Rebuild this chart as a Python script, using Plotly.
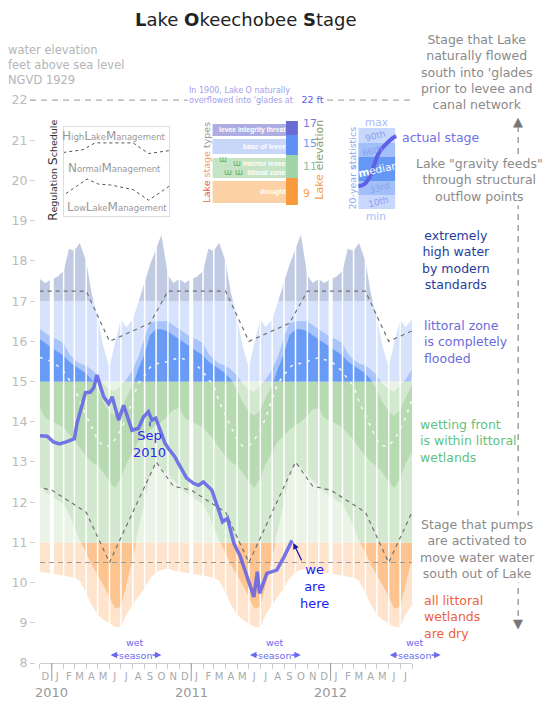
import plotly.graph_objects as go
import pandas as pd

# 20-year day-of-year stage statistics (ft), read at the 1st and 15th of each month, Jan 1 first
CLIM_MONTH = [1, 1, 2, 2, 3, 3, 4, 4, 5, 5, 6, 6, 7, 7, 8, 8, 9, 9, 10, 10, 11, 11, 12, 12]
CLIM_DAY = [1, 15] * 12
STAT_MAX = [17.55, 17.6, 17.75, 18.3, 18.25, 18.45, 18.0, 17.2, 16.6, 15.9, 15.35, 15.95,
            16.55, 16.35, 16.55, 16.95, 17.5, 17.9, 18.3, 18.65, 17.65, 17.45, 17.55, 17.45]
STAT_P90 = [16.1, 16.05, 15.95, 15.7, 15.55, 15.45, 15.4, 15.3, 15.15, 14.95, 14.8, 14.75,
            14.9, 15.05, 15.3, 15.6, 16.1, 16.45, 16.5, 16.5, 16.5, 16.4, 16.3, 16.2]
STAT_P66 = [15.85, 15.75, 15.65, 15.5, 15.4, 15.3, 15.2, 15.05, 14.8, 14.5, 14.25, 14.15,
            14.3, 14.6, 14.9, 15.3, 15.7, 16.15, 16.3, 16.3, 16.25, 16.15, 16.05, 15.95]
STAT_MEDIAN = [15.5, 15.4, 15.25, 15.05, 14.9, 14.5, 14.15, 13.85, 13.55, 13.4, 13.4, 13.55,
               13.8, 14.1, 14.55, 14.95, 15.15, 15.35, 15.45, 15.45, 15.5, 15.55, 15.6, 15.55]
STAT_P33 = [14.0, 13.95, 13.85, 13.7, 13.55, 13.35, 13.15, 13.0, 12.9, 12.75, 12.5, 12.35,
            12.6, 12.95, 13.25, 13.5, 13.65, 13.8, 13.9, 14.0, 14.15, 14.3, 14.35, 14.1]
STAT_P10 = [12.15, 12.05, 11.95, 11.7, 11.4, 11.05, 10.75, 10.45, 10.2, 9.95, 9.65, 9.35,
            9.4, 9.9, 10.6, 11.2, 12.0, 12.7, 12.95, 12.85, 12.7, 12.55, 12.4, 12.25]
STAT_MIN = [10.22, 10.2, 10.18, 10.15, 10.12, 10.05, 9.75, 9.45, 9.2, 9.08, 8.98, 8.9,
            8.88, 9.2, 9.45, 9.65, 9.85, 10.1, 10.25, 10.32, 10.35, 10.3, 10.27, 10.25]

# regulation schedule breakpoints (month, day, ft)
REG_UPPER_MONTH = [1, 4, 6, 9, 11, 12]
REG_UPPER_DAY = [1, 1, 1, 15, 1, 31]
REG_UPPER_FT = [17.25, 17.25, 16.0, 16.45, 17.25, 17.25]
REG_LOWER_MONTH = [1, 4, 6, 10, 11, 12]
REG_LOWER_DAY = [1, 1, 1, 1, 15, 31]
REG_LOWER_FT = [12.3, 11.75, 10.5, 13.0, 12.4, 12.3]
PUMP_STAGE = 10.5
HISTORIC_STAGE = 22

# actual lake stage
STAGE_DATE = ['2009-12-01', '2009-12-20', '2010-01-05', '2010-01-21', '2010-02-08', '2010-03-01',
              '2010-03-08', '2010-03-20', '2010-03-30', '2010-04-12', '2010-04-21', '2010-04-29',
              '2010-05-08', '2010-05-17', '2010-05-30', '2010-06-08', '2010-06-25', '2010-07-08',
              '2010-07-30', '2010-08-16', '2010-08-29', '2010-09-11', '2010-09-20', '2010-09-30',
              '2010-10-15', '2010-10-24', '2010-11-02', '2010-11-19', '2010-11-28', '2010-12-20',
              '2011-01-07', '2011-01-20', '2011-02-02', '2011-02-24', '2011-03-11', '2011-03-24',
              '2011-04-06', '2011-04-23', '2011-05-10', '2011-05-28', '2011-06-14', '2011-06-23',
              '2011-06-29', '2011-07-18', '2011-08-13', '2011-09-01', '2011-09-22']
STAGE_FT = [13.65, 13.64, 13.5, 13.45, 13.5, 13.58, 13.96, 14.4, 14.72, 14.74, 14.85, 15.16,
            14.87, 14.62, 14.45, 14.62, 14.04, 14.41, 13.79, 13.84, 14.12, 14.25, 14.04, 14.09,
            13.71, 13.47, 13.34, 13.13, 12.97, 12.6, 12.47, 12.42, 12.5, 12.3, 11.88, 11.51,
            11.6, 10.97, 10.64, 10.14, 9.64, 10.27, 9.73, 10.23, 10.31, 10.64, 11.05]

# stage zones: bottom, top, colours for min-max, 10-90 and 33-66 bands
ZONE_LOW = [8, 11, 15, 17]
ZONE_HIGH = [11, 15, 17, 22.5]
ZONE_OUTER = ['#fee4cc', '#e9f4e7', '#d7e3fc', '#c0cae2']
ZONE_MIDDLE = ['#fec48f', '#d3e9cf', '#a8c4fa', '#c0cae2']
ZONE_INNER = ['#fdb878', '#b7dab3', '#689bf6', '#c0cae2']

MONTH_LETTERS = list('JFMAMJJASOND')
YEARS = [2010, 2011, 2012]

START, END = pd.Timestamp('2009-12-01'), pd.Timestamp('2012-08-01')
Y_MIN, Y_MAX = 8, 22.5
W, H = 551, 703
L, R, T, B = 32, 139, 80, 40
PW, PH = W - L - R, H - T - B
X_DOMAIN0 = 5 / PW
FONT = 'DejaVu Sans'


def px(x):
    return (x - L) / PW


def py(y):
    return (H - B - y) / PH


def yd(v):
    return (v - Y_MIN) / (Y_MAX - Y_MIN)


def xp(t):
    # date -> paper x, following the main x axis
    return X_DOMAIN0 + (t - START) / (END - START) * (1 - X_DOMAIN0)


def span(months, days, values, lo=START, hi=END):
    xs, ys = [], []
    for yr in range(2009, 2014):
        for m, d, v in zip(months, days, values):
            t = pd.Timestamp(yr, m, d)
            if lo <= t <= hi:
                xs.append(t)
                ys.append(v)
    return xs, ys


fig = go.Figure()

# percentile bands, one subplot per zone so each is clipped to its zone
bands = [(STAT_MIN, STAT_MAX, ZONE_OUTER), (STAT_P10, STAT_P90, ZONE_MIDDLE), (STAT_P33, STAT_P66, ZONE_INNER)]
for k in range(len(ZONE_LOW)):
    yname = 'y' if k == 0 else 'y%d' % (k + 1)
    for lower, upper, cols in bands:
        bx, blo = span(CLIM_MONTH, CLIM_DAY, lower)
        _, bhi = span(CLIM_MONTH, CLIM_DAY, upper)
        fig.add_trace(go.Scatter(x=bx + bx[::-1], y=bhi + blo[::-1], fill='toself', fillcolor=cols[k],
                                 mode='lines', line=dict(width=0), yaxis=yname, hoverinfo='skip',
                                 showlegend=False))

# white month separators
months = pd.date_range(START, END, freq='MS')[1:-1]
for wide in (False, True):
    sx, sy = [], []
    for t in months:
        if (t.month == 1) == wide:
            sx += [t, t, None]
            sy += [Y_MIN, 19, None]
    fig.add_trace(go.Scatter(x=sx, y=sy, mode='lines', line=dict(color='white', width=4 if wide else 1.5),
                             yaxis='y5', hoverinfo='skip', showlegend=False))

mx, my = span(CLIM_MONTH, CLIM_DAY, STAT_MEDIAN)
fig.add_trace(go.Scatter(x=mx, y=my, mode='lines', yaxis='y5', showlegend=False,
                         line=dict(color='rgba(255,255,255,0.9)', width=1.5, dash='3px,6px')))

wide_lo, wide_hi = START - pd.DateOffset(months=4), END + pd.DateOffset(months=4)
for rm, rd, rv in [(REG_UPPER_MONTH, REG_UPPER_DAY, REG_UPPER_FT), (REG_LOWER_MONTH, REG_LOWER_DAY, REG_LOWER_FT)]:
    rx, ry = span(rm, rd, rv, wide_lo, wide_hi)
    fig.add_trace(go.Scatter(x=rx, y=ry, mode='lines', yaxis='y5', showlegend=False,
                             line=dict(color='#707070', width=1.2, dash='4px,4px')))
    # miniature in the regulation schedule inset
    fig.add_trace(go.Scatter(x=rx, y=ry, mode='lines', xaxis='x2', yaxis='y6', showlegend=False,
                             line=dict(color='#555', width=1, dash='3px,3px')))

fig.add_trace(go.Scatter(x=[START, END], y=[PUMP_STAGE, PUMP_STAGE], mode='lines', yaxis='y5',
                         showlegend=False, line=dict(color='#9a9a9a', width=1.2, dash='5px,4px')))

fig.add_trace(go.Scatter(x=pd.to_datetime(STAGE_DATE), y=STAGE_FT, mode='lines', yaxis='y5',
                         showlegend=False, line=dict(color='rgba(95,95,232,0.85)', width=3.5)))

# ---------- annotations ----------
ann = []


def note(x, y, text, size=12.5, color='#888', xanchor='center', yanchor='middle', angle=0, bg=None,
         align='center', family=FONT):
    d = dict(x=px(x), y=py(y), xref='paper', yref='paper', text=text, showarrow=False,
             font=dict(size=size, color=color, family=family), xanchor=xanchor, yanchor=yanchor,
             textangle=angle, align=align)
    if bg:
        d['bgcolor'] = bg
    ann.append(d)


note(245, 19, '<b>L</b>ake <b>O</b>keechobee <b>S</b>tage', size=18, color='#222')
note(3, 65, 'water elevation<br>feet above sea level<br>NGVD 1929', size=11.5, color='#b5b5b5',
     xanchor='left', align='left')
note(477, 72, "Stage that Lake<br>naturally flowed<br>south into 'glades<br>prior to levee and<br>canal network",
     color='#8a8a8a')
note(480, 180, 'Lake "gravity feeds"<br>through structural<br>outflow points', color='#8a8a8a', bg='white')
note(456, 260, 'extremely<br>high water<br>by modern<br>standards', color='#1f3d9e')
note(422, 342, 'littoral zone<br>is completely<br>flooded', color='#6b6bd8', xanchor='left', align='left')
note(418, 441, 'wetting front<br>is within littoral<br>wetlands', color='#62c27f', xanchor='left',
     align='left')
note(478, 549, 'Stage that pumps<br>are activated to<br>move water water<br>south out of Lake',
     color='#8a8a8a', bg='white')
note(422, 617, 'all littoral<br>wetlands<br>are dry', color='#f06040', xanchor='left', align='left')
note(519, 121, '▲', size=13, color='#777')
note(519, 623, '▼', size=13, color='#777')
note(255, 95, "In 1900, Lake O naturally<br>overflowed into 'glades at "
     "<span style='color:#5a5ae0;font-size:9.5px'>  22 ft</span>", size=8, color='#a0a0ec', bg='white',
     align='left')

# data-linked callouts
ann.append(dict(x='2010-09-15', y=14.05, xref='x', yref='y5', text='Sep<br>2010', showarrow=True,
                arrowhead=0, arrowwidth=1.2, arrowcolor='#2a2af0', ax=0, ay=24, standoff=2,
                font=dict(size=13, color='#2a2af0', family=FONT)))
ann.append(dict(x=STAGE_DATE[-1], y=STAGE_FT[-1], xref='x', yref='y5', text='we<br>are<br>here',
                showarrow=True, arrowhead=2, arrowsize=1, arrowwidth=1.2, arrowcolor='#1a1a9a', ax=22,
                ay=46, standoff=3, font=dict(size=13, color='#2020f0', family=FONT)))

# wet season markers and year labels
for yr in YEARS:
    s, e = pd.Timestamp(yr, 6, 1), pd.Timestamp(yr, 10, 15)
    mid = s + (e - s) / 2
    ann.append(dict(x=xp(e), y=py(655), xref='paper', yref='paper', ax=(xp(s) - xp(e)) * PW, ay=0,
                    axref='pixel', ayref='pixel', text='', showarrow=True, arrowhead=2, startarrowhead=2,
                    arrowside='end+start', arrowsize=1, arrowwidth=1.3, arrowcolor='#6a6af0'))
    ann.append(dict(x=xp(mid), y=py(655), xref='paper', yref='paper', text='season', showarrow=False,
                    bgcolor='white', xanchor='center', yanchor='middle', borderpad=0,
                    font=dict(size=9.5, color='#6a6af0', family=FONT)))
    ann.append(dict(x=xp(mid), y=py(642), xref='paper', yref='paper', text='wet', showarrow=False,
                    xanchor='center', yanchor='middle', font=dict(size=9.5, color='#6a6af0', family=FONT)))
    ann.append(dict(x=xp(pd.Timestamp(yr, 1, 1)), y=py(692), xref='paper', yref='paper', text=str(yr),
                    showarrow=False, xanchor='center', yanchor='middle',
                    font=dict(size=13, color='#999', family=FONT)))

# regulation schedule inset text
big = "<span style='font-size:12px'>%s</span>"
note(112, 136, big % 'H' + 'igh' + big % 'L' + 'ake' + big % 'M' + 'anagement', size=8.5, color='#999')
note(112, 168, big % 'N' + 'ormal' + big % 'M' + 'anagement', size=8.5, color='#999')
note(115, 207, big % 'L' + 'ow' + big % 'L' + 'ake' + big % 'M' + 'anagement', size=8.5, color='#999')
note(50, 170, big % 'R' + 'egulation ' + big % 'S' + 'chedule', size=9.5, color='#333', angle=-90)

# lake stage types inset
shapes = []


def rect(x0, x1, y0, y1, color):
    shapes.append(dict(type='rect', xref='paper', yref='paper', x0=px(x0), x1=px(x1), y0=py(y1), y1=py(y0),
                       fillcolor=color, line=dict(width=0), layer='above'))


TYPE_LABELS = ['levee integrity threat', 'base of levee', 'Interior levee<br>littoral zone', 'drought']
TYPE_COLORS = ['#adade3', '#c8d6fa', '#c6e4c3', '#fdd1a6']
TYPE_ROWS = [(124, 136), (139, 154), (158, 178), (181, 203)]
for gx, gy in [(221, 160), (236, 164), (227, 172), (238, 172)]:
    note(gx, gy, 'ɯ', size=8, color='#4fae63')
for lab, col, (r0, r1) in zip(TYPE_LABELS, TYPE_COLORS, TYPE_ROWS):
    rect(211, 290, r0, r1, col)
    note(287, (r0 + r1) / 2, '<b>%s</b>' % lab, size=6.8, color='white', xanchor='right', align='right',
         family='Liberation Sans')
ELEV_LABELS = ['17', '15', '11', '9']
ELEV_COLORS = ['#6b6bd4', '#5e90f5', '#9fd3a8', '#f99b3c']
ELEV_TEXT = ['#7a7adb', '#6d9cf6', '#8cc79a', '#f5a050']
ELEV_ROWS = [(121, 135), (135, 155), (155, 178), (178, 205)]
for lab, col, tcol, (r0, r1) in zip(ELEV_LABELS, ELEV_COLORS, ELEV_TEXT, ELEV_ROWS):
    rect(285, 297, r0, r1, col)
    note(300, r1 - 3, lab, size=11, color=tcol, xanchor='left', yanchor='bottom')
note(319, 160, "<span style='color:#f29a4a'>Lake</span> <span style='color:#8d9c6a'>elevation</span>",
     size=11, angle=-90)
note(204, 162, "<span style='color:#e8603c'>Lake</span> <span style='color:#f0a070'>stage</span> types",
     size=9.5, color='#999', angle=-90)

# 20-year statistics inset
for (r0, r1), col in zip([(128, 143), (143, 157), (157, 181), (181, 195), (195, 209)],
                         ['#c8d7fc', '#a3bff9', '#6598f4', '#a3bff9', '#c8d7fc']):
    rect(358, 395, r0, r1, col)
note(376, 122, 'max', size=10.5, color='#a9bcf7')
note(376, 216, 'min', size=10.5, color='#a9bcf7')
for lab, lx, ly in [('90th', 375, 136), ('66th', 372, 151), ('33rd', 379, 188), ('10th', 378, 202)]:
    note(lx, ly, lab, size=9, color='#8a9ff0', angle=-15)
note(378, 169, '<b>m</b>edian', size=10.5, color='white', angle=-12)
note(352, 168, '20-year <b>s</b>tatistics', size=9.5, color='#90a8f4', angle=-90)
note(400, 137, 'actual stage', size=12.5, color='#6f6fe9', xanchor='left')
pts = [(358, 186), (373, 186), (372, 158), (382, 148), (390, 139), (396, 136)]
pp = ['%.4f,%.4f' % (px(a), py(b)) for a, b in pts]
shapes.append(dict(type='path', xref='paper', yref='paper', layer='above',
                   path='M %s C %s %s %s S %s %s' % tuple(pp), line=dict(color='#6060e6', width=4)))

# historic stage line, right-hand arrow, year dividers
shapes.append(dict(type='line', xref='paper', yref='y5', x0=px(27), x1=px(410), y0=HISTORIC_STAGE,
                   y1=HISTORIC_STAGE, line=dict(color='#aaa', width=1.2, dash='6px,5px')))
shapes.append(dict(type='line', xref='paper', yref='paper', x0=px(519), x1=px(519), y0=py(126), y1=py(617),
                   line=dict(color='#888', width=1.2, dash='6px,5px')))
for yr in YEARS:
    shapes.append(dict(type='line', xref='x', yref='paper', x0=pd.Timestamp(yr, 1, 1),
                       x1=pd.Timestamp(yr, 1, 1), y0=0, y1=py(681), line=dict(color='#999', width=1)))

zone_axes = {}
for k, (lo, hi) in enumerate(zip(ZONE_LOW, ZONE_HIGH)):
    name = 'yaxis' if k == 0 else 'yaxis%d' % (k + 1)
    zone_axes[name] = dict(domain=[yd(lo), yd(hi)], range=[lo, hi], visible=False, anchor='x',
                           fixedrange=True)

mid_months = [t + pd.Timedelta(days=14) for t in pd.date_range(START, END, freq='MS')[:-1]]

fig.update_layout(
    width=W, height=H, margin=dict(l=L, r=R, t=T, b=B),
    paper_bgcolor='white', plot_bgcolor='rgba(0,0,0,0)',
    font=dict(family=FONT),
    showlegend=False,
    xaxis=dict(type='date', range=[START, END], domain=[X_DOMAIN0, 1], anchor='y', showgrid=False,
               zeroline=False, showline=True, linecolor='#ccc', ticks='', ticklabelstandoff=4,
               tickvals=mid_months, ticktext=[MONTH_LETTERS[t.month - 1] for t in mid_months],
               tickfont=dict(size=10, color='#aaa'), tickangle=0,
               minor=dict(ticks='outside', ticklen=5, tickcolor='#ccc', dtick='M1', tick0='2009-12-01',
                          showgrid=False)),
    yaxis5=dict(domain=[0, 1], range=[Y_MIN, Y_MAX], anchor='free', position=0, showgrid=False,
                zeroline=False, showline=False, ticks='outside', ticklen=5, tickcolor='#dcc8c8',
                tickvals=list(range(8, 23)), tickfont=dict(size=12.5, color='#bbb')),
    xaxis2=dict(type='date', range=['2010-07-01', '2011-08-20'], domain=[px(61), px(167)], anchor='y6',
                showline=True, mirror=True, linecolor='#ddd', showticklabels=False, ticks='',
                showgrid=False, zeroline=False),
    yaxis6=dict(range=[8.65, 19.12], domain=[py(216), py(127)], anchor='x2', showline=True, mirror=True,
                linecolor='#ddd', showticklabels=False, ticks='', showgrid=False, zeroline=False),
    annotations=ann, shapes=shapes,
    **zone_axes,
)

fig.write_html('out.html', config={'displayModeBar': False},
               post_script="document.body.style.margin='0';")
